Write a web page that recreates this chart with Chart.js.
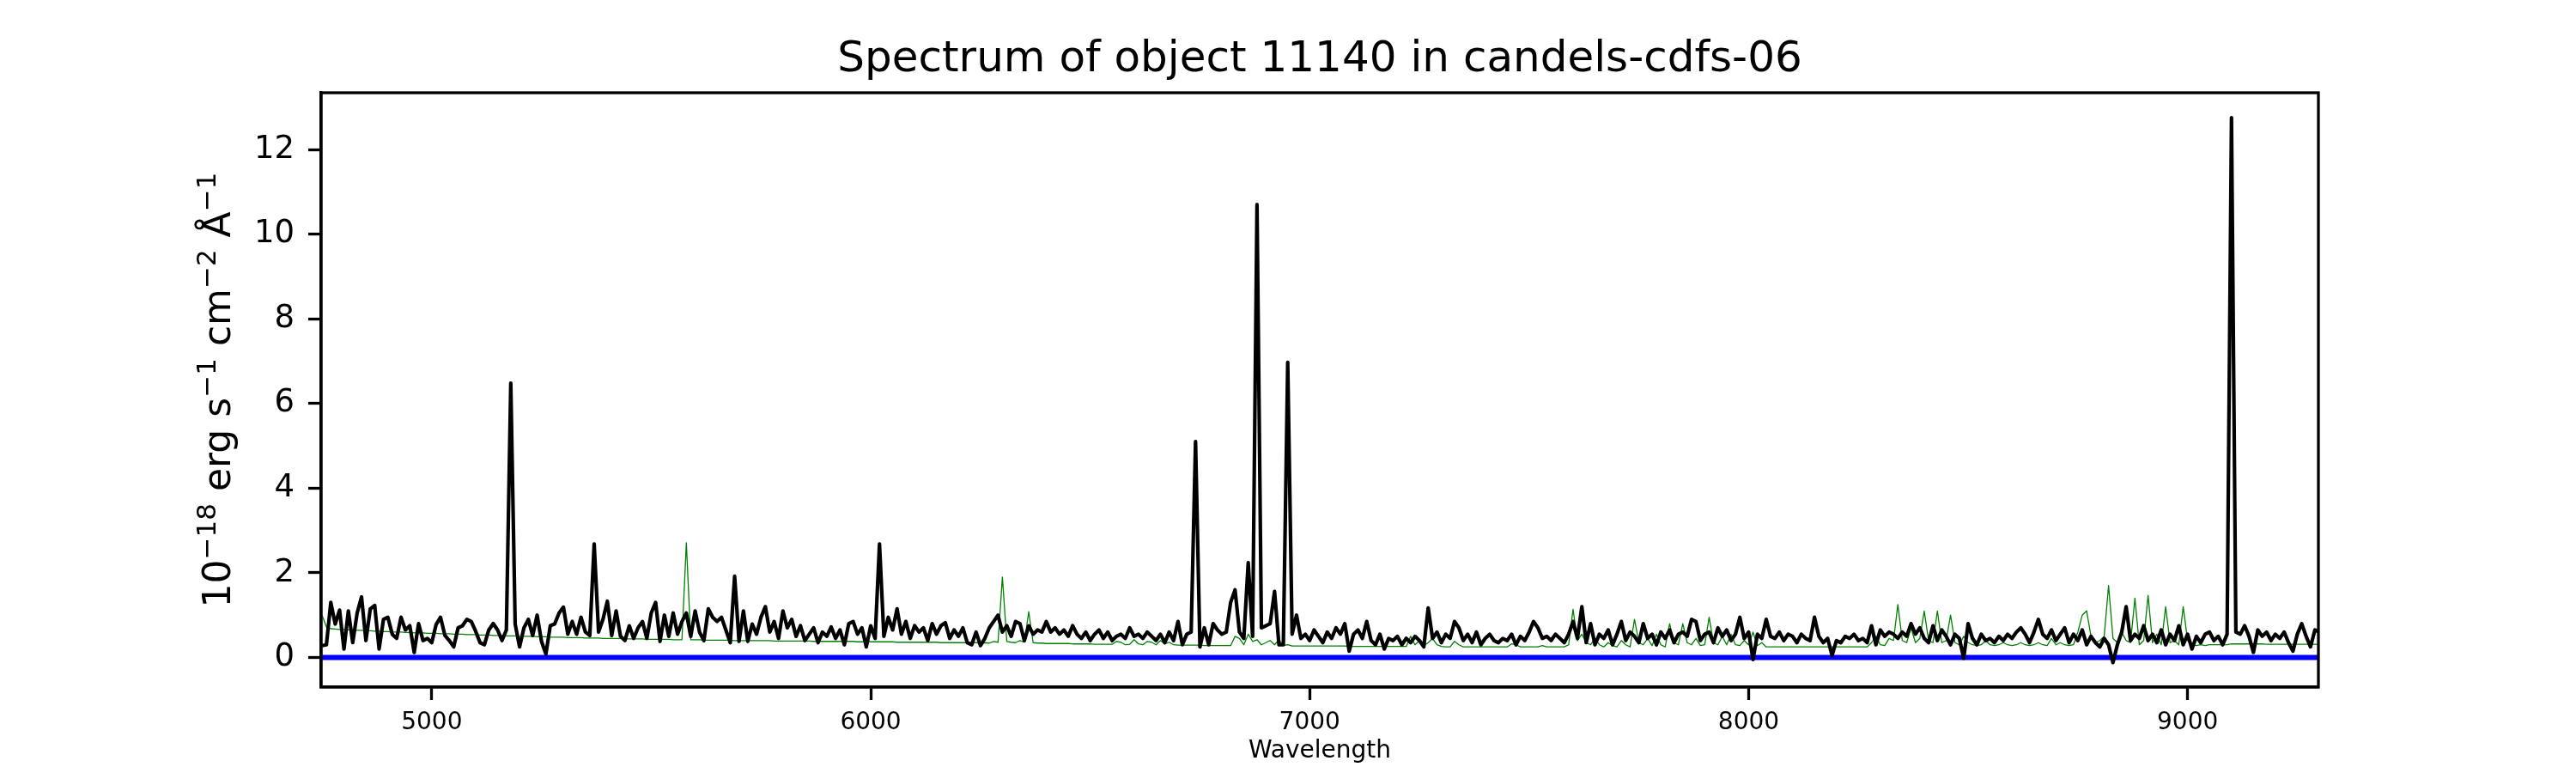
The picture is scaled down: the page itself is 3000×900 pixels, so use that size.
<!DOCTYPE html>
<html>
<head>
<meta charset="utf-8">
<script src="https://cdn.jsdelivr.net/npm/chart.js@4"></script>
<style>body{margin:0;background:#fff}</style>
</head>
<body>
<canvas id="spectrumChart" width="3000" height="900"></canvas>
<script>
// wavelength grid of the extracted spectrum (Angstrom)
var waveStart = 4750;
var waveStep = 10;

// flux, 10^-18 erg/s/cm2/A, one row per 100 A starting at 4750
var flux = [
    0.28, 0.30, 1.30, 0.79, 1.12, 0.20, 1.10, 0.35, 1.05, 1.43,
    0.40, 1.15, 1.23, 0.20, 0.90, 0.95, 0.55, 0.45, 0.95, 0.65,
    0.75, 0.12, 0.80, 0.40, 0.45, 0.35, 0.78, 0.95, 0.52, 0.40,
    0.25, 0.70, 0.75, 0.90, 0.85, 0.62, 0.35, 0.30, 0.65, 0.80,
    0.65, 0.40, 0.65, 6.48, 0.79, 0.25, 0.70, 0.90, 0.52, 1.00,
    0.38, 0.08, 0.75, 0.79, 1.05, 1.19, 0.55, 0.85, 0.55, 0.95,
    0.60, 0.52, 2.68, 0.60, 0.90, 1.33, 0.52, 1.10, 0.50, 0.40,
    0.75, 0.45, 0.70, 0.85, 0.45, 1.05, 1.30, 0.38, 1.00, 0.50,
    1.05, 0.55, 0.85, 1.05, 0.50, 1.10, 0.60, 0.40, 1.15, 0.95,
    0.85, 0.95, 0.65, 0.35, 1.92, 0.38, 1.10, 0.38, 0.79, 0.55,
    0.95, 1.20, 0.60, 0.85, 0.45, 1.10, 0.70, 0.90, 0.50, 0.75,
    0.40, 0.55, 0.70, 0.35, 0.60, 0.50, 0.72, 0.45, 0.65, 0.30,
    0.80, 0.85, 0.55, 0.70, 0.25, 0.75, 0.45, 2.68, 0.50, 0.95,
    0.65, 1.15, 0.55, 0.85, 0.45, 0.75, 0.60, 0.70, 0.40, 0.80,
    0.55, 0.75, 0.82, 0.45, 0.65, 0.50, 0.70, 0.35, 0.30, 0.60,
    0.28, 0.45, 0.70, 0.85, 1.00, 0.60, 0.75, 0.50, 0.85, 0.80,
    0.40, 0.75, 0.55, 0.65, 0.60, 0.85, 0.60, 0.70, 0.55, 0.65,
    0.50, 0.75, 0.55, 0.45, 0.60, 0.40, 0.55, 0.65, 0.45, 0.60,
    0.40, 0.50, 0.55, 0.45, 0.70, 0.50, 0.55, 0.45, 0.60, 0.50,
    0.40, 0.55, 0.35, 0.60, 0.40, 0.85, 0.30, 0.55, 0.60, 5.10,
    0.25, 0.70, 0.30, 0.80, 0.65, 0.55, 0.60, 1.30, 1.60, 0.60,
    0.45, 2.24, 0.50, 10.70, 0.70, 0.75, 0.80, 1.56, 0.30, 0.30,
    6.97, 0.55, 1.00, 0.45, 0.55, 0.40, 0.65, 0.50, 0.35, 0.60,
    0.45, 0.70, 0.55, 0.80, 0.15, 0.55, 0.65, 0.45, 0.85, 0.40,
    0.30, 0.55, 0.20, 0.45, 0.40, 0.50, 0.30, 0.45, 0.35, 0.50,
    0.40, 0.25, 1.17, 0.45, 0.60, 0.35, 0.55, 0.45, 0.85, 0.70,
    0.40, 0.55, 0.35, 0.60, 0.30, 0.45, 0.55, 0.40, 0.35, 0.45,
    0.40, 0.55, 0.30, 0.50, 0.40, 0.60, 0.85, 0.70, 0.45, 0.50,
    0.40, 0.55, 0.45, 0.35, 0.55, 0.85, 0.45, 1.20, 0.35, 0.80,
    0.30, 0.55, 0.45, 0.65, 0.30, 0.55, 0.85, 0.40, 0.60, 0.50,
    0.35, 0.80, 0.45, 0.55, 0.30, 0.60, 0.45, 0.65, 0.35, 0.55,
    0.60, 0.50, 0.90, 0.85, 0.40, 0.55, 0.60, 0.35, 0.70, 0.50,
    0.65, 0.40, 0.55, 0.95, 0.45, 0.60, -0.05, 0.55, 0.45, 0.90,
    0.50, 0.45, 0.60, 0.40, 0.55, 0.50, 0.35, 0.55, 0.45, 0.40,
    0.95, 0.50, 0.35, 0.45, 0.05, 0.40, 0.35, 0.50, 0.45, 0.55,
    0.40, 0.45, 0.35, 0.75, 0.30, 0.65, 0.50, 0.60, 0.55, 0.45,
    0.60, 0.50, 0.80, 0.55, 0.70, 0.45, 0.35, 0.75, 0.40, 0.65,
    0.50, 0.30, 0.55, 0.45, -0.02, 0.80, 0.45, 0.30, 0.55, 0.40,
    0.45, 0.35, 0.50, 0.40, 0.55, 0.45, 0.60, 0.70, 0.55, 0.35,
    0.60, 0.90, 0.55, 0.45, 0.65, 0.40, 0.55, 0.70, 0.35, 0.55,
    0.40, 0.65, 0.30, 0.50, 0.35, 0.25, 0.45, 0.30, -0.12, 0.30,
    0.60, 1.20, 0.40, 0.55, 0.45, 0.75, 0.40, 0.55, 0.35, 0.65,
    0.30, 0.55, 0.40, 0.75, 0.30, 0.55, 0.20, 0.50, 0.35, 0.55,
    0.60, 0.40, 0.50, 0.30, 0.55, 12.75, 0.60, 0.55, 0.75, 0.50,
    0.12, 0.65, 0.50, 0.60, 0.40, 0.55, 0.45, 0.60, 0.35, 0.15,
    0.55, 0.80, 0.50, 0.25, 0.65, 0.60
];

// error / sky spectrum on the same grid
var noise = [
    1.00, 0.72, 0.68, 0.67, 0.66, 0.66, 0.65, 0.65, 0.64, 0.64,
    0.63, 0.63, 0.62, 0.62, 0.61, 0.61, 0.60, 0.60, 0.60, 0.59,
    0.59, 0.58, 0.58, 0.58, 0.57, 0.57, 0.57, 0.56, 0.56, 0.56,
    0.55, 0.55, 0.55, 0.54, 0.54, 0.54, 0.53, 0.53, 0.53, 0.52,
    0.52, 0.52, 0.51, 0.51, 0.51, 0.50, 0.50, 0.50, 0.50, 0.49,
    0.49, 0.49, 0.48, 0.48, 0.48, 0.48, 0.47, 0.47, 0.47, 0.47,
    0.46, 0.46, 0.46, 0.46, 0.45, 0.45, 0.45, 0.45, 0.45, 0.44,
    0.44, 0.44, 0.44, 0.44, 0.43, 0.43, 0.43, 0.43, 0.43, 0.43,
    0.42, 0.42, 0.42, 2.71, 0.42, 0.42, 0.42, 0.41, 0.41, 0.41,
    0.41, 0.41, 0.41, 0.41, 0.40, 0.40, 0.40, 0.40, 0.40, 0.40,
    0.40, 0.40, 0.40, 0.39, 0.39, 0.39, 0.39, 0.39, 0.39, 0.39,
    0.39, 0.39, 0.38, 0.38, 0.38, 0.38, 0.38, 0.38, 0.38, 0.38,
    0.38, 0.38, 0.37, 0.37, 0.37, 0.37, 0.37, 0.37, 0.37, 0.37,
    0.37, 0.36, 0.36, 0.36, 0.36, 0.36, 0.36, 0.36, 0.36, 0.36,
    0.36, 0.35, 0.35, 0.35, 0.35, 0.35, 0.35, 0.35, 0.35, 0.35,
    0.34, 0.35, 0.34, 0.38, 0.36, 1.90, 0.38, 0.36, 0.35, 0.40,
    0.36, 1.08, 0.35, 0.34, 0.34, 0.33, 0.33, 0.33, 0.33, 0.33,
    0.33, 0.32, 0.32, 0.32, 0.32, 0.32, 0.31, 0.31, 0.31, 0.31,
    0.31, 0.38, 0.36, 0.30, 0.31, 0.42, 0.32, 0.30, 0.38, 0.36,
    0.30, 0.40, 0.32, 0.36, 0.30, 0.29, 0.29, 0.29, 0.29, 0.29,
    0.29, 0.28, 0.28, 0.28, 0.28, 0.28, 0.28, 0.28, 0.50, 0.45,
    0.30, 0.55, 0.38, 0.42, 0.30, 0.35, 0.40, 0.30, 0.42, 0.28,
    0.30, 0.27, 0.27, 0.27, 0.27, 0.27, 0.27, 0.27, 0.27, 0.27,
    0.27, 0.27, 0.27, 0.27, 0.26, 0.26, 0.26, 0.26, 0.26, 0.26,
    0.26, 0.26, 0.26, 0.26, 0.26, 0.26, 0.26, 0.26, 0.50, 0.30,
    0.40, 0.28, 0.35, 0.45, 0.30, 0.26, 0.25, 0.25, 0.38, 0.30,
    0.25, 0.25, 0.25, 0.25, 0.25, 0.25, 0.25, 0.25, 0.25, 0.25,
    0.25, 0.32, 0.30, 0.25, 0.25, 0.25, 0.25, 0.25, 0.28, 0.25,
    0.25, 0.25, 0.25, 0.25, 0.30, 1.14, 0.40, 0.55, 0.35, 0.30,
    0.45, 0.30, 0.25, 0.35, 0.28, 0.25, 0.40, 0.30, 0.25, 0.90,
    0.35, 0.30, 0.45, 0.28, 0.55, 0.30, 0.25, 0.80, 0.35, 0.30,
    0.80, 0.35, 0.30, 0.45, 0.28, 0.30, 0.95, 0.35, 0.30, 0.50,
    0.30, 0.55, 0.30, 0.28, 0.40, 0.30, 0.60, 0.28, 0.35, 0.25,
    0.25, 0.25, 0.25, 0.25, 0.25, 0.25, 0.25, 0.25, 0.25, 0.25,
    0.25, 0.25, 0.25, 0.25, 0.25, 0.25, 0.25, 0.25, 0.25, 0.25,
    0.25, 0.25, 0.25, 0.35, 0.50, 0.30, 0.28, 0.45, 0.40, 1.25,
    0.40, 0.35, 0.70, 0.35, 0.45, 1.10, 0.40, 0.35, 1.10, 0.35,
    0.40, 1.00, 0.35, 0.30, 0.50, 0.35, 0.30, 0.28, 0.30, 0.40,
    0.30, 0.28, 0.30, 0.35, 0.30, 0.28, 0.30, 0.35, 0.30, 0.28,
    0.30, 0.35, 0.30, 0.28, 0.45, 0.30, 0.35, 0.30, 0.28, 0.30,
    0.60, 1.00, 1.10, 0.50, 0.35, 0.40, 0.50, 1.70, 0.45, 0.35,
    0.60, 0.40, 0.35, 1.40, 0.30, 0.40, 1.47, 0.35, 0.55, 0.30,
    1.20, 0.35, 0.40, 0.30, 1.20, 0.40, 0.30, 0.28, 0.30, 0.28,
    0.30, 0.30, 0.30, 0.30, 0.30, 0.32, 0.32, 0.32, 0.32, 0.32,
    0.32, 0.32, 0.32, 0.31, 0.31, 0.31, 0.31, 0.31, 0.31, 0.31,
    0.31, 0.31, 0.31, 0.31, 0.31, 0.31
];

var zeroLevel = 0;
var xTicks = [5000, 6000, 7000, 8000, 9000];
var yTicks = [0, 2, 4, 6, 8, 10, 12];

var wavelength = flux.map(function(_, i) { return waveStart + i * waveStep; });

function toPoints(values) {
    return values.map(function(v, i) { return {x: wavelength[i], y: v}; });
}

var FONT = "'DejaVu Sans', 'Liberation Sans', sans-serif";

// title, axes box and the y label with superscripts
var decorations = {
    id: 'decorations',
    afterDatasetsDraw: function(chart) {
        var a = chart.chartArea, ctx = chart.ctx;
        ctx.save();
        ctx.strokeStyle = '#000';
        ctx.lineWidth = 3.3;
        ctx.strokeRect(a.left, a.top, a.right - a.left, a.bottom - a.top);
        ctx.restore();
    },
    afterDraw: function(chart) {
        var a = chart.chartArea, ctx = chart.ctx;
        ctx.save();
        ctx.fillStyle = '#000';
        ctx.font = '50px ' + FONT;
        ctx.textAlign = 'center';
        ctx.textBaseline = 'alphabetic';
        ctx.fillText('Spectrum of object 11140 in candels-cdfs-06', (a.left + a.right) / 2, 83);
        ctx.restore();

        var parts = [
            ['10', false], ['\u221218', true], [' erg s', false], ['\u22121', true],
            [' cm', false], ['\u22122', true], [' \u00c5', false], ['\u22121', true]
        ];
        ctx.save();
        ctx.fillStyle = '#000';
        ctx.textAlign = 'left';
        ctx.textBaseline = 'alphabetic';
        var total = 0;
        parts.forEach(function(p) {
            ctx.font = (p[1] ? 31 : 44) + 'px ' + FONT;
            p.push(ctx.measureText(p[0]).width);
            total += p[2];
        });
        ctx.translate(268, (a.top + a.bottom) / 2);
        ctx.rotate(-Math.PI / 2);
        var x = -total / 2;
        parts.forEach(function(p) {
            ctx.font = (p[1] ? 31 : 44) + 'px ' + FONT;
            ctx.fillText(p[0], x, p[1] ? -17 : 0);
            x += p[2];
        });
        ctx.restore();
    }
};

var ctx = document.getElementById('spectrumChart').getContext('2d');
var spectrumChart = new Chart(ctx, {
    type: 'line',
    data: {
        datasets: [{
            label: 'flux',
            data: toPoints(flux),
            borderColor: '#000000',
            borderWidth: 4.2
        }, {
            label: 'noise',
            data: toPoints(noise),
            borderColor: '#008000',
            borderWidth: 1.3
        }, {
            label: 'zero',
            data: wavelength.map(function(w) { return {x: w, y: zeroLevel}; }),
            borderColor: '#0000ff',
            borderWidth: 6.2
        }]
    },
    options: {
        responsive: false,
        devicePixelRatio: 1,
        animation: false,
        layout: {padding: {left: 0, top: 108, right: 300, bottom: 0}},
        elements: {
            point: {radius: 0},
            line: {tension: 0, fill: false, borderJoinStyle: 'round', borderCapStyle: 'butt'}
        },
        plugins: {legend: {display: false}, tooltip: {enabled: false}},
        scales: {
            x: {
                type: 'linear',
                min: 4748,
                max: 9298,
                afterFit: function(s) { s.height = 100; },
                afterBuildTicks: function(s) { s.ticks = xTicks.map(function(v) { return {value: v}; }); },
                grid: {drawOnChartArea: false, tickLength: 15, tickWidth: 3.3, tickColor: '#000'},
                border: {color: '#000', width: 3.3},
                ticks: {
                    color: '#000',
                    font: {family: FONT, size: 28},
                    padding: 10,
                    maxRotation: 0,
                    autoSkip: false,
                    callback: function(v) { return String(v); }
                },
                title: {
                    display: true,
                    text: 'Wavelength',
                    color: '#000',
                    font: {family: FONT, size: 28},
                    padding: {top: 0, bottom: 8}
                }
            },
            y: {
                type: 'linear',
                min: -0.7,
                max: 13.34,
                afterFit: function(s) { s.width = 374; },
                afterBuildTicks: function(s) { s.ticks = yTicks.map(function(v) { return {value: v}; }); },
                grid: {drawOnChartArea: false, tickLength: 15, tickWidth: 3.3, tickColor: '#000'},
                border: {color: '#000', width: 3.3},
                ticks: {
                    color: '#000',
                    font: {family: FONT, size: 37},
                    padding: 16,
                    callback: function(v) { return String(v); }
                }
            }
        }
    },
    plugins: [decorations]
});
</script>
</body>
</html>
